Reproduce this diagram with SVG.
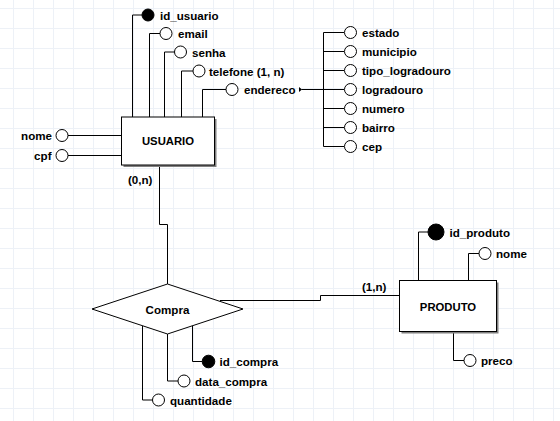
<svg xmlns="http://www.w3.org/2000/svg" width="560" height="421" viewBox="0 0 560 421">
<defs>
<pattern id="grid" patternUnits="userSpaceOnUse" x="13" y="8" width="20" height="20">
<rect x="0" y="0" width="20" height="1" fill="#edf1f7"/>
<rect x="0" y="0" width="1" height="20" fill="#edf1f7"/>
</pattern>
</defs>
<style>
text{font-family:"Liberation Sans",Arial,Helvetica,sans-serif;font-weight:bold;font-size:11.6px;fill:#000}
.ent{font-size:11.3px;text-anchor:middle}
.c{fill:none;stroke:#000;stroke-width:1}
.a{fill:#fff;stroke:#000;stroke-width:1}
.k{fill:#000;stroke:#000;stroke-width:1}
.box{fill:#fff;stroke:#000;stroke-width:1}
.sh{fill:#808080}
</style>
<rect width="560" height="421" fill="#fff"/>
<rect width="560" height="421" fill="url(#grid)"/>

<g id="connectors">
<path class="c" d="M132.5 117V15H142"/>
<path class="c" d="M149.5 117V33.5H160"/>
<path class="c" d="M164.5 117V52H174.5"/>
<path class="c" d="M181.5 117V71H193"/>
<path class="c" d="M202.5 117V89.5H226"/>
<path class="c" d="M68 135.5H121.5"/>
<path class="c" d="M68 155.5H121.5"/>
<path class="c" d="M301.5 89.5H323.5"/>
<path class="c" d="M323.5 32.5V146.5"/>
<path class="c" d="M323.5 32.5H344M323.5 51.5H344M323.5 70.5H344M323.5 89.5H344M323.5 108.5H344M323.5 127.5H344M323.5 146.5H344"/>
<path class="c" d="M159.5 165V224.5H167.5V284"/>
<path class="c" d="M220 300.5H320.5V295.5H399.5"/>
<path class="c" d="M192.5 325.5V361.5H202"/>
<path class="c" d="M167.5 334V381H178"/>
<path class="c" d="M142.5 326V400H152.5"/>
<path class="c" d="M418.5 280.5V232H428"/>
<path class="c" d="M468.5 280.5V253.5H479"/>
<path class="c" d="M453.5 332V360.5H464"/>
</g>

<g id="usuario">
<rect class="sh" x="123.5" y="119" width="93" height="48"/>
<rect class="box" x="121.5" y="117" width="93" height="48"/>
<text class="ent" x="168" y="145">USUARIO</text>
</g>

<g id="attr-id_usuario"><circle class="k" cx="148" cy="15" r="6"/><text x="160" y="19.5">id_usuario</text></g>
<g id="attr-email"><circle class="a" cx="166" cy="33.5" r="6"/><text x="178" y="38">email</text></g>
<g id="attr-senha"><circle class="a" cx="180.5" cy="52" r="6"/><text x="192" y="56.5">senha</text></g>
<g id="attr-telefone"><circle class="a" cx="199" cy="71" r="6"/><text x="209" y="75.5">telefone (1, n)</text></g>
<g id="attr-endereco"><circle class="a" cx="232" cy="89.5" r="6"/><text x="244" y="94">endereco</text><path d="M299 87V92L302 89.5Z" fill="#000"/></g>
<g id="attr-nome"><circle class="a" cx="62" cy="135.5" r="6"/><text x="52" y="140" text-anchor="end">nome</text></g>
<g id="attr-cpf"><circle class="a" cx="62" cy="155.5" r="6"/><text x="51.5" y="160" text-anchor="end">cpf</text></g>

<g id="attr-estado"><circle class="a" cx="350.5" cy="32.5" r="6"/><text x="362" y="37">estado</text></g>
<g id="attr-municipio"><circle class="a" cx="350.5" cy="51.5" r="6"/><text x="362" y="56">municipio</text></g>
<g id="attr-tipo_logradouro"><circle class="a" cx="350.5" cy="70.5" r="6"/><text x="362" y="75">tipo_logradouro</text></g>
<g id="attr-logradouro"><circle class="a" cx="350.5" cy="89.5" r="6"/><text x="362" y="94">logradouro</text></g>
<g id="attr-numero"><circle class="a" cx="350.5" cy="108.5" r="6"/><text x="362" y="113">numero</text></g>
<g id="attr-bairro"><circle class="a" cx="350.5" cy="127.5" r="6"/><text x="362" y="132">bairro</text></g>
<g id="attr-cep"><circle class="a" cx="350.5" cy="146.5" r="6"/><text x="362" y="151">cep</text></g>

<g id="card-usuario"><text x="128" y="184">(0,n)</text></g>

<g id="compra">
<path class="box" d="M167.5 284L243 309L167.5 334L92 309Z"/>
<text class="ent" x="167.5" y="313.5" style="font-size:11.6px">Compra</text>
</g>
<g id="attr-id_compra"><circle class="k" cx="208.5" cy="361.5" r="6.3"/><text x="219.5" y="366">id_compra</text></g>
<g id="attr-data_compra"><circle class="a" cx="184" cy="381" r="6"/><text x="195" y="385.5">data_compra</text></g>
<g id="attr-quantidade"><circle class="a" cx="158.5" cy="400" r="6"/><text x="170" y="404.5">quantidade</text></g>

<g id="card-produto"><text x="362" y="290.5">(1,n)</text></g>

<g id="produto">
<rect class="sh" x="401.5" y="282.5" width="97" height="51"/>
<rect class="box" x="399.5" y="280.5" width="97" height="51"/>
<text class="ent" x="448" y="310.5">PRODUTO</text>
</g>
<g id="attr-id_produto"><circle class="k" cx="436" cy="232" r="8"/><text x="449.5" y="236.5">id_produto</text></g>
<g id="attr-nome_produto"><circle class="a" cx="485" cy="253.5" r="6"/><text x="496" y="258">nome</text></g>
<g id="attr-preco"><circle class="a" cx="470" cy="360.5" r="6"/><text x="481" y="365">preco</text></g>
</svg>
